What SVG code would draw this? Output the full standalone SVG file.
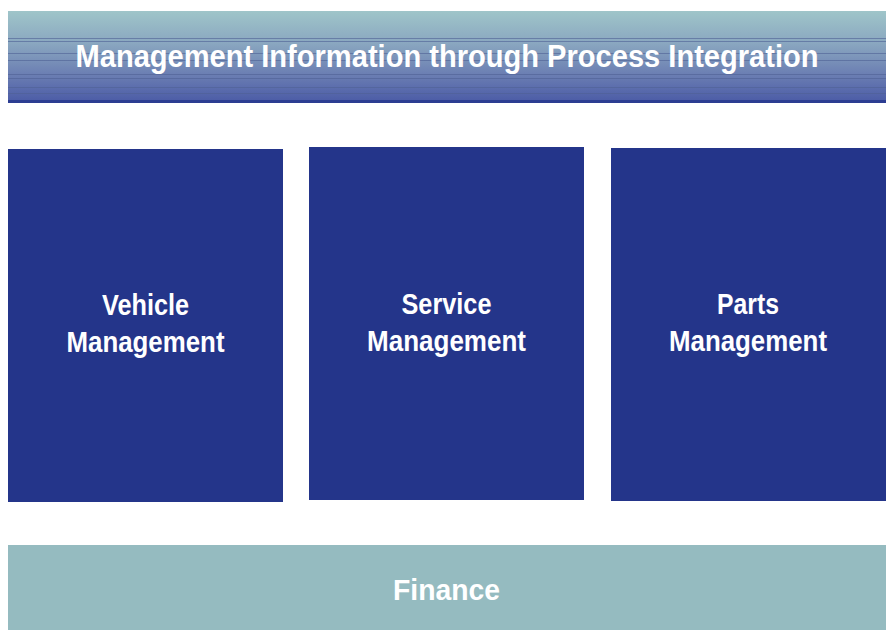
<svg xmlns="http://www.w3.org/2000/svg" width="889" height="630" viewBox="0 0 889 630">
  <defs>
    <linearGradient id="bannerFill" x1="0" y1="0" x2="0" y2="1">
      <stop offset="0" stop-color="#9fc5c9"/>
      <stop offset="0.35" stop-color="#8aa7c0"/>
      <stop offset="0.7" stop-color="#6a7db2"/>
      <stop offset="1" stop-color="#4a5aa6"/>
    </linearGradient>
  </defs>
  <style>
    .label { font-family: "Liberation Sans Narrow", "Liberation Sans", Arial, sans-serif; font-weight: bold; fill: #ffffff; text-anchor: middle; font-size: 30px; }
    .title { font-size: 32px; }
    .module { fill: #24358a; }
    .stripe { stroke: #4f6195; stroke-width: 1; opacity: 0.6; }
  </style>

  <rect width="889" height="630" fill="#ffffff"/>

  <!-- top banner with horizontal line texture -->
  <g id="banner">
    <rect x="8" y="11" width="878" height="92" fill="url(#bannerFill)"/>
    <g class="stripe">
      <line x1="8" y1="38.5" x2="886" y2="38.5"/>
      <line x1="8" y1="41.5" x2="886" y2="41.5"/>
      <line x1="8" y1="53.5" x2="886" y2="53.5"/>
      <line x1="8" y1="60.5" x2="886" y2="60.5"/>
      <line x1="8" y1="74.5" x2="886" y2="74.5"/>
      <line x1="8" y1="78.5" x2="886" y2="78.5"/>
      <line x1="8" y1="87.5" x2="886" y2="87.5"/>
      <line x1="8" y1="93.5" x2="886" y2="93.5"/>
    </g>
    <rect x="8" y="100" width="878" height="3" fill="#2c3d92"/>
    <text class="label title" x="447" y="67" textLength="743" lengthAdjust="spacingAndGlyphs">Management Information through Process Integration</text>
  </g>

  <g id="vehicle">
    <rect class="module" x="8" y="149" width="275" height="353"/>
    <text class="label" x="145.5" y="315" textLength="87" lengthAdjust="spacingAndGlyphs">Vehicle</text>
    <text class="label" x="145.5" y="352" textLength="158" lengthAdjust="spacingAndGlyphs">Management</text>
  </g>

  <g id="service">
    <rect class="module" x="309" y="147" width="275" height="353"/>
    <text class="label" x="446.5" y="314" textLength="90" lengthAdjust="spacingAndGlyphs">Service</text>
    <text class="label" x="446.5" y="351" textLength="159" lengthAdjust="spacingAndGlyphs">Management</text>
  </g>

  <g id="parts">
    <rect class="module" x="611" y="148" width="275" height="353"/>
    <text class="label" x="748" y="314" textLength="62" lengthAdjust="spacingAndGlyphs">Parts</text>
    <text class="label" x="748" y="351" textLength="158" lengthAdjust="spacingAndGlyphs">Management</text>
  </g>

  <g id="finance">
    <rect x="8" y="545" width="878" height="85" fill="#95bbc0"/>
    <text class="label" x="446.5" y="600" textLength="107" lengthAdjust="spacingAndGlyphs">Finance</text>
  </g>
</svg>
